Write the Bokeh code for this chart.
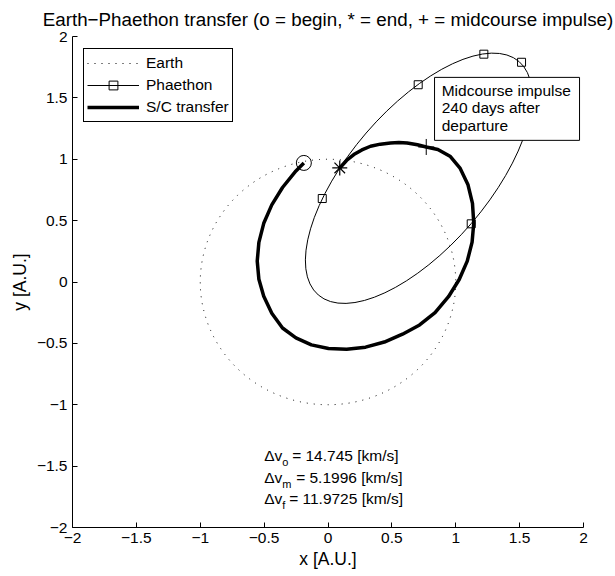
import numpy as np
from bokeh.plotting import figure
from bokeh.models import Range1d, FixedTicker, Legend, LegendItem, BoxAnnotation, Label
from bokeh.embed import file_html
from bokeh.resources import INLINE

FONT = "Liberation Sans"

# ---- data ----
earth_center_x = [0.0]
earth_center_y = [0.0]
earth_diameter = [2.0]

phaethon_center_x = [0.71]
phaethon_center_y = [0.845]
phaethon_width = [2.41]
phaethon_height = [1.13]
phaethon_angle_deg = [49.3]

phaethon_mark_x = [-0.045, 0.706, 1.22, 1.515, 1.121]
phaethon_mark_y = [0.68, 1.607, 1.856, 1.79, 0.474]

sc_x = [-0.189, -0.251, -0.356, -0.440, -0.503, -0.541, -0.554, -0.541, -0.503, -0.440,
        -0.356, -0.251, -0.130, 0.004, 0.146, 0.294, 0.441, 0.583, 0.717, 0.838,
        0.943, 1.027, 1.090, 1.128, 1.141, 1.131, 1.095, 1.035, 0.955, 0.860,
        0.769, 0.700, 0.620, 0.555, 0.489, 0.410, 0.333, 0.265, 0.202, 0.145, 0.092]
sc_y = [0.970, 0.905, 0.770, 0.628, 0.478, 0.323, 0.170, 0.022, -0.116, -0.255,
        -0.375, -0.455, -0.512, -0.542, -0.548, -0.531, -0.489, -0.425, -0.350, -0.250,
        -0.120, 0.020, 0.170, 0.325, 0.480, 0.640, 0.795, 0.925, 1.025, 1.080,
        1.100, 1.118, 1.133, 1.137, 1.133, 1.123, 1.106, 1.076, 1.038, 0.990, 0.929]

mid_x = [0.769]
mid_y = [1.100]

tick_values = [-2, -1.5, -1, -0.5, 0, 0.5, 1, 1.5, 2]
tick_labels = ["\u22122", "\u22121.5", "\u22121", "\u22120.5", "0", "0.5", "1", "1.5", "2"]

dv_subs = ["o", "m", "f"]
dv_values = ["14.745", "5.1996", "11.9725"]
note_lines = ["Midcourse impulse", "240 days after", "departure"]

# ---- figure ----
p = figure(width=615, height=576, x_range=Range1d(-2, 2), y_range=Range1d(-2, 2),
           output_backend="svg", toolbar_location=None,
           min_border_left=72, min_border_right=32, min_border_top=35, min_border_bottom=49,
           title="Earth\u2212Phaethon transfer (o = begin, * = end, + = midcourse impulse)")
p.title.text_font = FONT
p.title.text_font_size = "18.8px"
p.title.text_font_style = "normal"
p.title.text_color = "black"
p.title.align = "center"
p.title.standoff = 13
p.outline_line_color = None
p.grid.visible = False
p.background_fill_color = "white"

for ax in (p.xaxis[0], p.yaxis[0]):
    ax.ticker = FixedTicker(ticks=tick_values)
    ax.major_label_overrides = dict(zip(tick_values, tick_labels))
    ax.major_tick_in = 5
    ax.major_tick_out = 0
    ax.minor_tick_line_color = None
    ax.axis_line_color = "black"
    ax.major_tick_line_color = "black"
    ax.major_label_text_font = FONT
    ax.major_label_text_font_size = "15.5px"
    ax.major_label_text_color = "black"
    ax.axis_label_text_font = FONT
    ax.axis_label_text_font_size = "17.5px"
    ax.axis_label_text_font_style = "normal"
    ax.axis_label_text_color = "black"
    ax.major_label_standoff = 5
p.xaxis.axis_label = "x [A.U.]"
p.yaxis.axis_label = "y [A.U.]"
p.xaxis.axis_label_standoff = 3
p.yaxis.axis_label_standoff = 4

# Earth orbit
p.ellipse(x=earth_center_x, y=earth_center_y, width=earth_diameter, height=earth_diameter,
          fill_color=None, line_color="black", line_width=1, line_dash="1 6")
earth_leg = p.line(x=[np.nan], y=[np.nan], line_color="black", line_width=1, line_dash="1 6")

# Phaethon orbit
p.ellipse(x=phaethon_center_x, y=phaethon_center_y, width=phaethon_width, height=phaethon_height,
          angle=phaethon_angle_deg, angle_units="deg",
          fill_color=None, line_color="black", line_width=1)
ph_leg = p.line(x=[np.nan], y=[np.nan], line_color="black", line_width=1)
ph_marks = p.scatter(x=phaethon_mark_x, y=phaethon_mark_y, marker="square", size=8,
                     fill_color=None, line_color="black", line_width=1)

# transfer
sc = p.line(x=sc_x, y=sc_y, line_color="black", line_width=3.5, line_join="round")

# begin / end / midcourse markers
p.scatter(x=sc_x[:1], y=sc_y[:1], marker="circle", size=15, fill_color=None,
          line_color="black", line_width=1)
p.scatter(x=sc_x[-1:], y=sc_y[-1:], marker="asterisk", size=15,
          line_color="black", line_width=1.2)
p.scatter(x=mid_x, y=mid_y, marker="cross", size=16, line_color="black", line_width=1)

legend = Legend(items=[LegendItem(label="Earth", renderers=[earth_leg]),
                       LegendItem(label="Phaethon", renderers=[ph_leg, ph_marks]),
                       LegendItem(label="S/C transfer", renderers=[sc])],
                location=(11, 405), margin=0, padding=3, spacing=0,
                glyph_width=52, glyph_height=22, label_height=22, label_standoff=7,
                label_text_font=FONT, label_text_font_size="15.5px", label_text_color="black",
                border_line_color="black", border_line_width=1, border_line_alpha=1,
                background_fill_color="white", background_fill_alpha=1)
p.add_layout(legend)

# annotation box
box = BoxAnnotation(left=0.834, right=1.969, top=1.667, bottom=1.154,
                    fill_color="white", fill_alpha=1, line_color="black",
                    line_alpha=1, line_width=1, line_dash="solid")
p.add_layout(box)
for i, t in enumerate(note_lines):
    p.add_layout(Label(x=0.89, y=1.560 - i * 0.142, text=t, text_font=FONT,
                       text_font_size="15.5px", text_baseline="middle", text_align="left",
                       text_color="black"))

# delta-v texts
sub_w = [7, 11, 4]
for i, (s, v) in enumerate(zip(dv_subs, dv_values)):
    yy = -1.415 - i * 0.176
    p.add_layout(Label(x=-0.5, y=yy, text="\u0394v", text_font=FONT, text_font_size="15.5px",
                       text_baseline="middle", text_align="left", text_color="black"))
    p.add_layout(Label(x=-0.5, y=yy - 0.052, x_offset=18, text=s, text_font=FONT,
                       text_font_size="11px", text_baseline="middle", text_align="left",
                       text_color="black"))
    p.add_layout(Label(x=-0.5, y=yy, x_offset=18 + sub_w[i] + 3, text="= " + v + " [km/s]",
                       text_font=FONT, text_font_size="15.5px", text_baseline="middle",
                       text_align="left", text_color="black"))

open("out.html", "w").write(file_html(p, INLINE))
